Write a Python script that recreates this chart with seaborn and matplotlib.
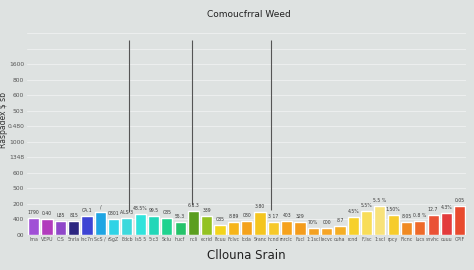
import matplotlib
matplotlib.use("Agg")
import matplotlib.pyplot as plt
import seaborn as sns
import pandas as pd

# ---- data ----
strains = ["lma", "VEPU", "C:S", "5nrla", "lnc7n", "ScS /", "rSgZ", "Edcb", "ls5 5", "5:c3",
           "Sclu", "hucf", "ncli", "ecrid", "lfcuu", "Fclvc", "lcda", "Sranc", "hcnd", "rnrclc",
           "Fucl", "1:1scl", "lecvc", "cuha", "rcnd", "F,lsc", "1:scl", "rpcy", "Flcnc", "lucs",
           "snvhc", "cuuu", "CPIF"]
values = [110, 103, 90, 90, 123, 148, 103, 110, 135, 123,
          110, 84, 155, 123, 65, 84, 90, 148, 84, 90,
          84, 45, 45, 58, 116, 155, 187, 129, 84, 90,
          129, 142, 187]
bar_labels = ["1790", "0.40", "L85", "815", "CA.1", "/", "0801", "ALS 3", "48.5%", "99.5",
              "C85", "55.3", "6.3.3", "339", "C85", "8.89", "080", "3.80", "3 17", "403",
              "329", "70%", "000", "8.7", "4.5%", "5.5%", "5.5 %", "1.50%", "8.05", "0.8 %",
              "12.7", "4.3%", "0.05"]
colors = ["#a04fd6", "#b23bbd", "#8f47c9", "#2b2580", "#3d44d4", "#1ea5e3", "#2fd3e6", "#3dd9dc",
          "#30e3dc", "#22d7b8", "#20d38f", "#25c36a", "#5a9e1e", "#93c222", "#f3d41c", "#f6b51a",
          "#f4a21b", "#f4c51f", "#f6c92a", "#f6a21c", "#f39c1c", "#f3a122", "#f6a526", "#f4ae24",
          "#f7d02a", "#f8dd58", "#f8e27a", "#f6cc2c", "#f08a22", "#ee6a2a", "#ea5235", "#e33b3c",
          "#e84a2e"]
ytick_vals = [0, 100, 200, 300, 400, 500, 600, 700, 800, 900, 1000, 1100, 1200, 1300]
ytick_labels = ["00", "400", "200", "500", "600", "1348", "1000", "0.480", "503", "600",
                "800", "1600", "", ""]
vline_x = [7.17, 11.9, 17.85]
vline_bottom = [150, 194, 160]
vline_top = 1258

title = "Comoucfrral Weed"
xlabel = "Cllouna Srain"
ylabel = "Raspadex $ sb"

bg = "#dee2e1"
sns.set_theme(style="whitegrid")
plt.rcParams['font.family'] = ['DejaVu Sans']

fig = plt.figure(figsize=(4.74, 2.70), dpi=100, facecolor=bg)
ax = fig.add_axes([0.057, 0.13, 0.927, 0.746])
ax.set_facecolor(bg)

df = pd.DataFrame({"strain": strains, "value": values})
sns.barplot(data=df, x="strain", y="value", hue="strain", palette=colors,
            legend=False, width=0.84, saturation=1, ax=ax, zorder=2)

for i, (v, lab) in enumerate(zip(values, bar_labels)):
    ax.text(i, v + 18, lab, ha="center", va="bottom", fontsize=3.3, color="#3a3a3a", zorder=4)

ax.vlines(vline_x, vline_bottom, vline_top, color="#555555", linewidth=0.8, zorder=3)

ax.set_xlim(-0.5, len(strains) - 0.5)
ax.set_ylim(0, 1300)
ax.set_yticks(ytick_vals)
ax.set_yticklabels(ytick_labels)
ax.tick_params(axis="y", labelsize=4.3, colors="#555555", pad=2, length=0)
ax.tick_params(axis="x", labelsize=3.4, colors="#555555", pad=1.5, length=0)
ax.grid(axis="y", color="#eceeee", linewidth=0.8, zorder=0)
ax.grid(axis="x", visible=False)
for s in ax.spines.values():
    s.set_visible(False)

ax.set_xlabel(xlabel, fontsize=8.5, color="#222222", labelpad=5)
ax.set_ylabel(ylabel, fontsize=5.5, color="#333333", labelpad=2)
ax.yaxis.set_label_coords(-0.043, 0.57)
fig.text(0.525, 0.945, title, ha="center", va="center", fontsize=6.5, color="#222222")

fig.savefig("out.png", dpi=100, facecolor=bg)
